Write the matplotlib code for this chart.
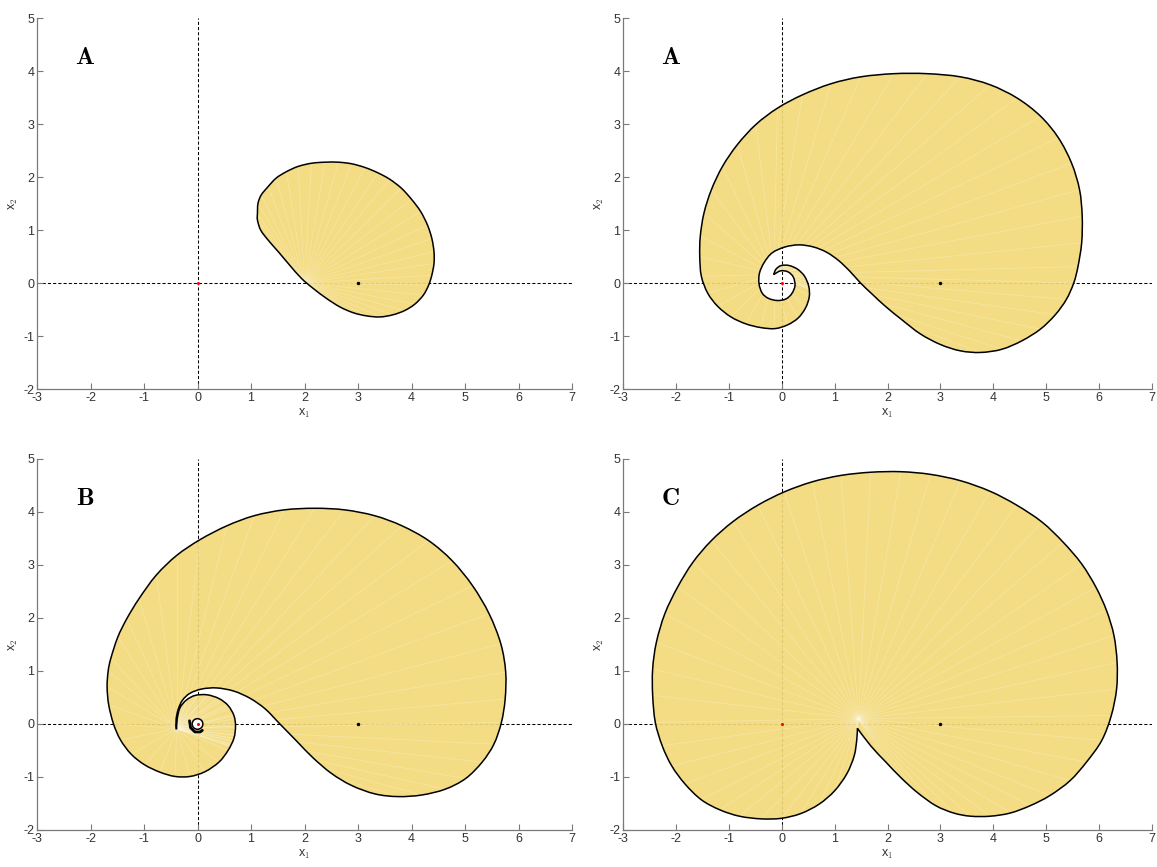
"""Reachable-set style panels: four filled boundaries with dashed axes."""
import matplotlib
matplotlib.use("Agg")
import matplotlib.pyplot as plt
import numpy as np
from matplotlib.path import Path
from matplotlib.patches import Circle, PathPatch
from matplotlib.collections import LineCollection

plt.rcParams["font.family"] = ["Liberation Sans", "DejaVu Sans"]
plt.rcParams["mathtext.fontset"] = "cm"
plt.rcParams["axes.unicode_minus"] = False

# ---- boundary readings (data coords) ----
a1_x = [1.12, 1.13, 1.19, 1.32, 1.47, 1.66, 1.88, 2.13, 2.38, 2.63, 2.88, 3.13, 3.37,
        3.59, 3.81, 4.00, 4.17, 4.30, 4.38, 4.42, 4.42, 4.38, 4.32, 4.22, 4.06, 3.87,
        3.65, 3.41, 3.16, 2.91, 2.66, 2.41, 2.16, 1.94, 1.72, 1.51, 1.32, 1.18, 1.12]
a1_y = [1.31, 1.50, 1.66, 1.82, 1.98, 2.10, 2.20, 2.26, 2.28, 2.28, 2.25, 2.18, 2.08,
        1.96, 1.79, 1.58, 1.35, 1.09, 0.84, 0.59, 0.37, 0.15, -0.04, -0.23, -0.40, -0.52,
        -0.60, -0.64, -0.62, -0.56, -0.45, -0.29, -0.10, 0.09, 0.34, 0.59, 0.81, 1.00, 1.19]

a2_x = [-0.15, -0.11, -0.01, 0.14, 0.30, 0.43, 0.51, 0.52, 0.45, 0.31, 0.11, -0.13,
        -0.40, -0.68, -0.96, -1.21, -1.40, -1.52, -1.55, -1.54, -1.47, -1.33, -1.12,
        -0.84, -0.49, -0.08, 0.39, 0.93, 1.49, 2.12, 2.75, 3.38, 3.94, 4.45, 4.89, 5.23,
        5.48, 5.63, 5.68, 5.67, 5.60, 5.52, 5.38, 5.17, 4.89, 4.54, 4.16, 3.76, 3.38,
        3.00, 2.62, 2.28, 1.96, 1.71, 1.49, 1.29, 1.08, 0.85, 0.60, 0.33, 0.06, -0.18,
        -0.33, -0.42, -0.43, -0.37, -0.25, -0.08, 0.08, 0.19, 0.25, 0.22, 0.12, -0.02]
a2_y = [0.16, 0.26, 0.33, 0.33, 0.26, 0.13, -0.06, -0.26, -0.47, -0.66, -0.79, -0.86,
        -0.84, -0.77, -0.64, -0.44, -0.19, 0.13, 0.50, 0.88, 1.32, 1.76, 2.20, 2.61,
        2.99, 3.30, 3.55, 3.76, 3.89, 3.95, 3.95, 3.89, 3.74, 3.49, 3.15, 2.74, 2.26,
        1.76, 1.26, 0.76, 0.31, 0.00, -0.31, -0.60, -0.87, -1.09, -1.25, -1.31, -1.28,
        -1.16, -0.96, -0.70, -0.44, -0.21, 0.00, 0.22, 0.42, 0.58, 0.68, 0.72, 0.68, 0.57,
        0.39, 0.19, -0.01, -0.19, -0.29, -0.33, -0.30, -0.20, -0.05, 0.11, 0.21, 0.23]

b_x = [-0.39, -0.38, -0.33, -0.21, -0.04, 0.18, 0.40, 0.57, 0.68, 0.71, 0.68, 0.57,
       0.40, 0.14, -0.14, -0.42, -0.70, -0.99, -1.24, -1.44, -1.57, -1.66, -1.69, -1.67,
       -1.62, -1.49, -1.32, -1.09, -0.77, -0.39, 0.05, 0.55, 1.06, 1.62, 2.19, 2.75, 3.31,
       3.82, 4.32, 4.76, 5.14, 5.45, 5.67, 5.76, 5.75, 5.68, 5.54, 5.32, 5.01, 4.63, 4.19,
       3.75, 3.32, 2.88, 2.50, 2.15, 1.86, 1.54, 1.27, 0.99, 0.68, 0.36, 0.08, -0.14,
       -0.28, -0.36, -0.40, -0.40]
b_y = [-0.09, 0.09, 0.30, 0.45, 0.54, 0.55, 0.48, 0.35, 0.16, -0.04, -0.27, -0.50,
       -0.72, -0.90, -0.99, -0.99, -0.91, -0.77, -0.57, -0.30, 0.00, 0.36, 0.70, 1.00,
       1.24, 1.64, 1.99, 2.37, 2.81, 3.18, 3.48, 3.74, 3.93, 4.04, 4.07, 4.04, 3.93, 3.74,
       3.46, 3.08, 2.61, 2.08, 1.51, 0.98, 0.47, 0.03, -0.38, -0.72, -1.03, -1.23, -1.34,
       -1.37, -1.32, -1.16, -0.93, -0.63, -0.33, 0.00, 0.28, 0.48, 0.62, 0.68, 0.66, 0.58,
       0.45, 0.28, 0.09, -0.09]
b_hook_x = [-0.15, -0.13, -0.05, 0.05, 0.09]
b_hook_y = [0.06, -0.07, -0.15, -0.15, -0.12]
b_ring_r = 0.10

c_x = [1.43, 1.68, 1.97, 2.25, 2.56, 2.91, 3.25, 3.57, 3.94, 4.32, 4.70, 5.07, 5.45,
       5.76, 6.05, 6.23, 6.33, 6.34, 6.28, 6.14, 5.94, 5.67, 5.32, 4.92, 4.44, 3.94,
       3.38, 2.81, 2.25, 1.68, 1.12, 0.58, 0.05, -0.45, -0.92, -1.33, -1.68, -1.97,
       -2.21, -2.37, -2.44, -2.44, -2.39, -2.26, -2.08, -1.83, -1.52, -1.17, -0.80,
       -0.39, -0.01, 0.36, 0.71, 1.00, 1.23, 1.37, 1.42]
c_y = [-0.08, -0.41, -0.72, -1.01, -1.29, -1.54, -1.68, -1.74, -1.74, -1.68, -1.54,
       -1.35, -1.07, -0.72, -0.31, 0.16, 0.66, 1.16, 1.67, 2.14, 2.58, 3.02, 3.43, 3.81,
       4.13, 4.39, 4.59, 4.71, 4.76, 4.75, 4.69, 4.57, 4.38, 4.13, 3.82, 3.46, 3.05,
       2.58, 2.08, 1.54, 1.04, 0.54, 0.03, -0.41, -0.79, -1.13, -1.43, -1.62, -1.74,
       -1.79, -1.78, -1.69, -1.51, -1.26, -0.94, -0.60, -0.28]

# where the fill's faint fan lines converge, per panel
fan_origins = [(2.0, 0.0), (-0.15, 0.16), (-0.39, -0.09), (1.45, 0.1)]
# sharp vertices (cusp / tip / hook) that must not be rounded
corners = [[], [0], [0, -1], [0]]

panel_labels = ["A", "A", "B", "C"]
start_point = (0.0, 0.0)
target_point = (3.0, 0.0)

FILL = "#F2D978"


def smooth_path(xs, ys, sharp):
    """Closed Catmull-Rom curve through the read vertices, as cubic Bezier."""
    pts = np.column_stack([xs, ys])
    n = len(pts)
    tang = (np.roll(pts, -1, axis=0) - np.roll(pts, 1, axis=0)) / 6.0
    tang[list(sharp)] = 0.0
    verts, codes = [pts[0]], [Path.MOVETO]
    for i in range(n):
        j = (i + 1) % n
        verts += [pts[i] + tang[i], pts[j] - tang[j], pts[j]]
        codes += [Path.CURVE4] * 3
    verts.append(pts[0])
    codes.append(Path.CLOSEPOLY)
    return Path(np.array(verts), codes)


fig = plt.figure(figsize=(11.57, 8.67), dpi=100)
rects = [
    [0.032, 0.5513, 0.4624, 0.4279],
    [0.5385, 0.5513, 0.4572, 0.4279],
    [0.032, 0.0427, 0.4624, 0.4279],
    [0.5385, 0.0427, 0.4572, 0.4279],
]
shapes = [(a1_x, a1_y), (a2_x, a2_y), (b_x, b_y), (c_x, c_y)]

for rect, (bx, by), lab, origin, sharp in zip(rects, shapes, panel_labels,
                                               fan_origins, corners):
    ax = fig.add_axes(rect)
    ax.axhline(0, color="black", lw=0.75, ls=(0, (3, 2)), zorder=1)
    ax.axvline(0, color="black", lw=0.75, ls=(0, (3, 2)), zorder=1)

    path = smooth_path(bx, by, sharp)
    fill = PathPatch(path, facecolor=FILL, edgecolor="none", alpha=0.92, zorder=2)
    ax.add_patch(fill)
    rays = LineCollection([[origin, (px, py)] for px, py in zip(bx, by)],
                          colors="white", linewidths=0.6, alpha=0.25, zorder=2.5)
    ax.add_collection(rays)
    rays.set_clip_path(fill)
    ax.add_patch(PathPatch(path, facecolor="none", edgecolor="black", lw=1.1, zorder=3))

    if lab == "B":
        ax.add_patch(Circle(start_point, b_ring_r, facecolor="white", edgecolor="black",
                            lw=1.1, zorder=3))
        ax.plot(b_hook_x, b_hook_y, color="black", lw=2.0, zorder=3,
                solid_capstyle="round")
    ax.plot(*start_point, "o", color="red", ms=2.2, mew=0, zorder=4)
    ax.plot(*target_point, "o", color="black", ms=2.5, mew=0, zorder=4)
    ax.text(-2.1, 4.27, r"$\mathbf{%s}$" % lab, fontsize=18, ha="center", va="center")

    ax.set_xlim(-3, 7)
    ax.set_ylim(-2, 5)
    ax.set_xticks(range(-3, 8))
    ax.set_yticks(range(-2, 6))
    for side in ("top", "right"):
        ax.spines[side].set_visible(False)
    for side in ("left", "bottom"):
        ax.spines[side].set_color("#7a7a7a")
        ax.spines[side].set_linewidth(0.9)
    ax.tick_params(direction="in", length=4, width=0.8, color="#7a7a7a",
                   labelsize=9, labelcolor="#333333", pad=2)
    ax.set_xlabel(r"x$_1$", fontsize=9, color="#333333", labelpad=2)
    ax.set_ylabel(r"x$_2$", fontsize=9, color="#333333", labelpad=2)

fig.savefig("out.png", dpi=100)
